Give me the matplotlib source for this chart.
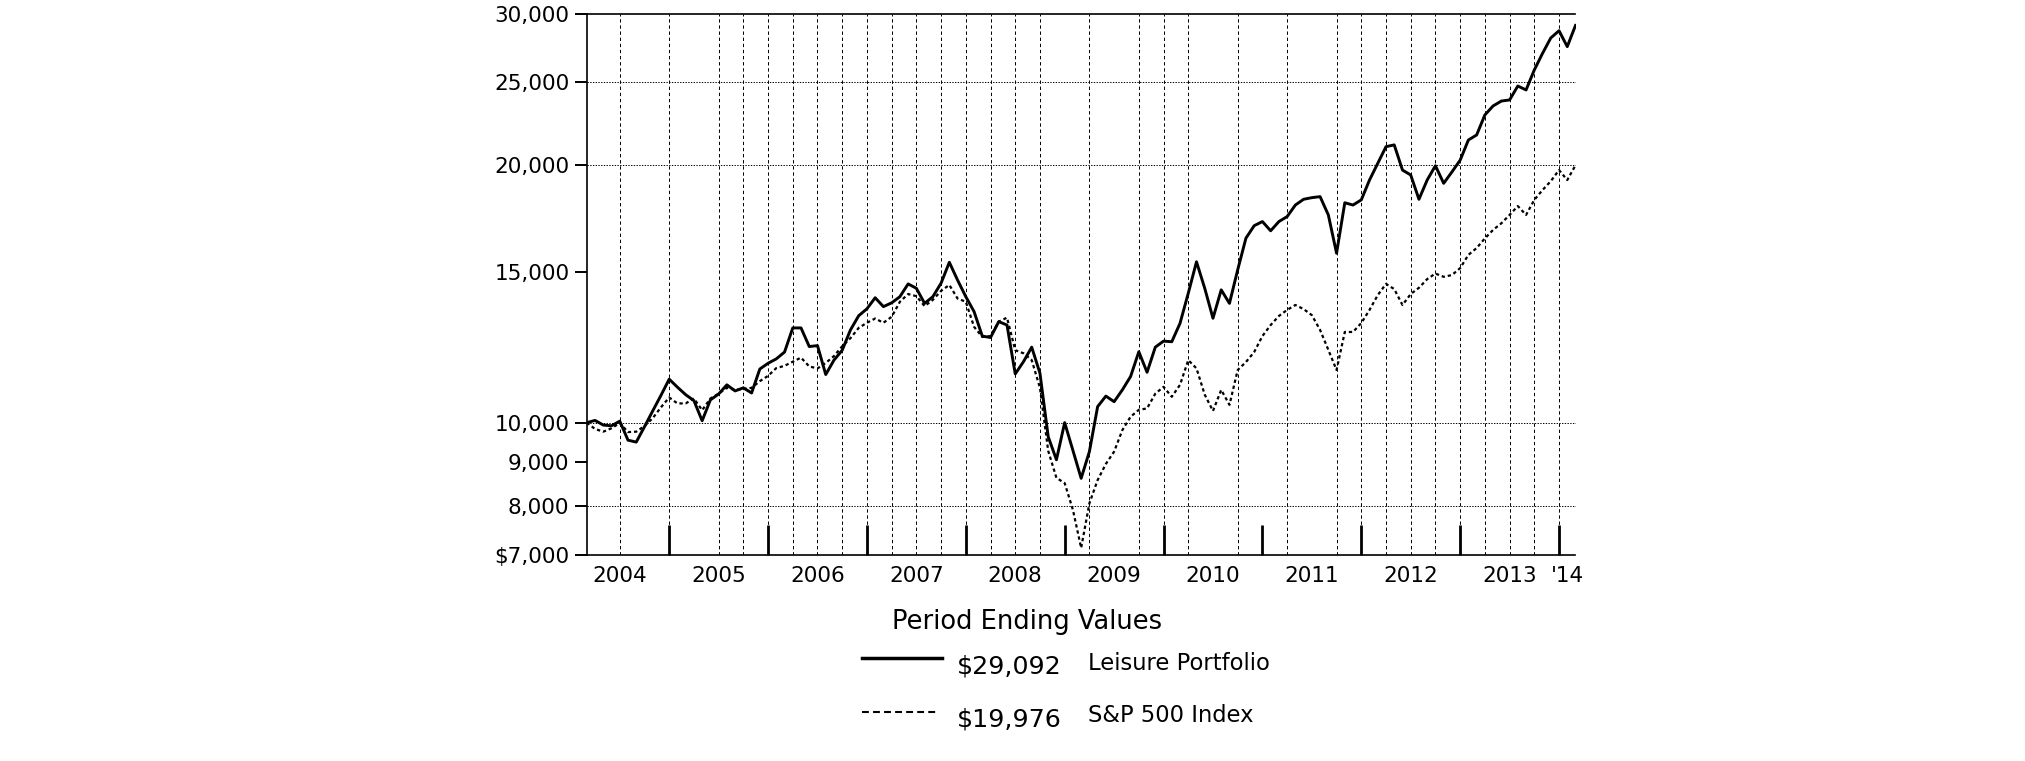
import numpy as np
import matplotlib
matplotlib.use("Agg")
import matplotlib.pyplot as plt
from matplotlib.lines import Line2D

# month-end values, Feb 2004 .. Feb 2014 (start = $10,000)
leisure = [10000, 10060, 9935, 9915, 10040, 9540, 9490, 9890, 10320, 10760,
           11240, 11000, 10780, 10610, 10050, 10630, 10800, 11070, 10890, 10980,
           10830, 11550, 11730, 11870, 12090, 12900, 12900, 12270, 12300, 11380,
           11830, 12150, 12830, 13330, 13580, 13990, 13660, 13800, 14030, 14520,
           14350, 13780, 14030, 14550, 15390, 14670, 14030, 13480, 12620, 12570,
           13120, 13000, 11400, 11780, 12250, 11420, 9630, 9050, 10000, 9280,
           8610, 9250, 10440, 10740, 10580, 10920, 11320, 12100, 11450, 12250,
           12450, 12430, 13060, 14160, 15410, 14350, 13240, 14290, 13780, 15080,
           16420, 16980, 17170, 16750, 17170, 17400, 17950, 18230, 18310, 18360,
           17480, 15770, 18060, 17950, 18200, 19200, 20080, 21000, 21100, 19720,
           19460, 18230, 19200, 19950, 19030, 19620, 20250, 21380, 21670, 22870,
           23430, 23740, 23810, 24720, 24460, 25810, 26990, 28130, 28680, 27480,
           29092]
sp500 = [10000, 9830, 9760, 9850, 9990, 9750, 9760, 9910, 10120, 10420,
         10700, 10530, 10530, 10670, 10340, 10670, 10810, 10980, 10920, 10950,
         10980, 11180, 11340, 11580, 11650, 11780, 11910, 11630, 11570, 11740,
         11960, 12280, 12550, 12900, 13080, 13230, 13080, 13290, 13840, 14130,
         14050, 13680, 13910, 14250, 14480, 13960, 13840, 12940, 12590, 12620,
         13120, 13260, 12150, 12050, 11830, 10980, 9270, 8620, 8500, 7910,
         7140, 8050, 8570, 8950, 9250, 9800, 10160, 10350, 10390, 10810,
         11010, 10720, 11070, 11830, 11570, 10780, 10320, 10920, 10490, 11520,
         11770, 12090, 12620, 13000, 13320, 13540, 13720, 13570, 13350, 12830,
         12160, 11520, 12760, 12760, 13070, 13540, 14090, 14520, 14320, 13720,
         14130, 14370, 14710, 14930, 14800, 14870, 15150, 15700, 15990, 16410,
         16790, 17090, 17480, 17900, 17480, 18200, 18690, 19140, 19720, 19200,
         19976]
series_names = ["Leisure Portfolio", "S&P 500 Index"]

y_ticks = [7000, 8000, 9000, 10000, 15000, 20000, 25000, 30000]
y_labels = ["$7,000", "8,000", "9,000", "10,000", "15,000", "20,000", "25,000", "30,000"]
y_grid = [8000, 10000, 20000, 25000]
year_labels = ["2004", "2005", "2006", "2007", "2008", "2009", "2010",
               "2011", "2012", "2013", "'14"]
x_grid = [2004.5, 2005.0, 2005.5, 2005.75, 2006.0, 2006.25, 2006.5, 2006.75,
          2007.0, 2007.25, 2007.5, 2007.75, 2008.0, 2008.25, 2008.5, 2008.75,
          2009.25, 2009.75, 2010.0, 2010.25, 2010.75, 2011.25, 2011.75,
          2012.0, 2012.25, 2012.5, 2012.75, 2013.0, 2013.25, 2013.5, 2013.75,
          2014.0]

# decimal year of each month end, first point = end of Feb 2004
x = 2004 + (2 + np.arange(len(leisure))) / 12.0

W, H = 2025, 761
fig = plt.figure(figsize=(W / 100, H / 100), dpi=100)
ax = fig.add_axes([586.8 / W, 1 - 555.3 / H, (1575.5 - 586.8) / W, (555.3 - 14) / H])

for gx in x_grid:
    ax.axvline(gx, color='black', lw=0.7, ls=(0, (3.5, 2.8)), zorder=1)
for gy in y_grid:
    ax.axhline(gy, color='black', lw=0.7, ls=(0, (1.4, 1.4)), zorder=1)

ax.plot(x, sp500, color='black', lw=1.6, ls=(0, (1.5, 1.3)), zorder=3)
ax.plot(x, leisure, color='black', lw=2.1, zorder=4)

ax.set_yscale('log')
ax.set_ylim(7000, 30000)
ax.set_xlim(x[0], x[-1])

ax.yaxis.set_major_locator(matplotlib.ticker.FixedLocator(y_ticks))
ax.yaxis.set_major_formatter(matplotlib.ticker.FixedFormatter(y_labels))
ax.yaxis.set_minor_locator(matplotlib.ticker.NullLocator())
ax.tick_params(axis='y', which='major', direction='out', length=8.5, width=1.4,
               pad=4, labelsize=15.5)

year_ticks = np.arange(2005, 2015)
label_pos = list(np.arange(2004.5, 2014, 1.0)) + [(2014 + x[-1]) / 2]
ax.set_xticks(year_ticks)
ax.set_xticklabels([])
ax.set_xticks(label_pos, minor=True)
ax.set_xticklabels(year_labels, minor=True)
ax.tick_params(axis='x', which='major', direction='in', length=21.6, width=2.0)
ax.tick_params(axis='x', which='minor', length=0, pad=8, labelsize=15.5)

ax.spines['right'].set_visible(False)
for s in ['left', 'top', 'bottom']:
    ax.spines[s].set_linewidth(1.2)

# legend block below the chart
def fx(px):
    return px / W

def fy(py):
    return 1 - py / H

fig.text(fx(891.7), fy(629.3), "Period Ending Values", fontsize=18.5, va='baseline')
fig.add_artist(Line2D([fx(861.7), fx(941.7)], [fy(658.3), fy(658.3)],
                      color='black', lw=2.5))
fig.add_artist(Line2D([fx(861.7), fx(936.7)], [fy(711.7), fy(711.7)],
                      color='black', lw=1.5, ls=(0, (3.3, 2.0))))
fig.text(fx(956.7), fy(673.3), f"${leisure[-1]:,.0f}", fontsize=18.3, va='baseline')
fig.text(fx(956.7), fy(726.7), f"${sp500[-1]:,.0f}", fontsize=18.3, va='baseline')
fig.text(fx(1088.3), fy(670), series_names[0], fontsize=16.3, va='baseline')
fig.text(fx(1088.3), fy(721.7), series_names[1], fontsize=16.3, va='baseline')

fig.savefig("out.png", dpi=100)
